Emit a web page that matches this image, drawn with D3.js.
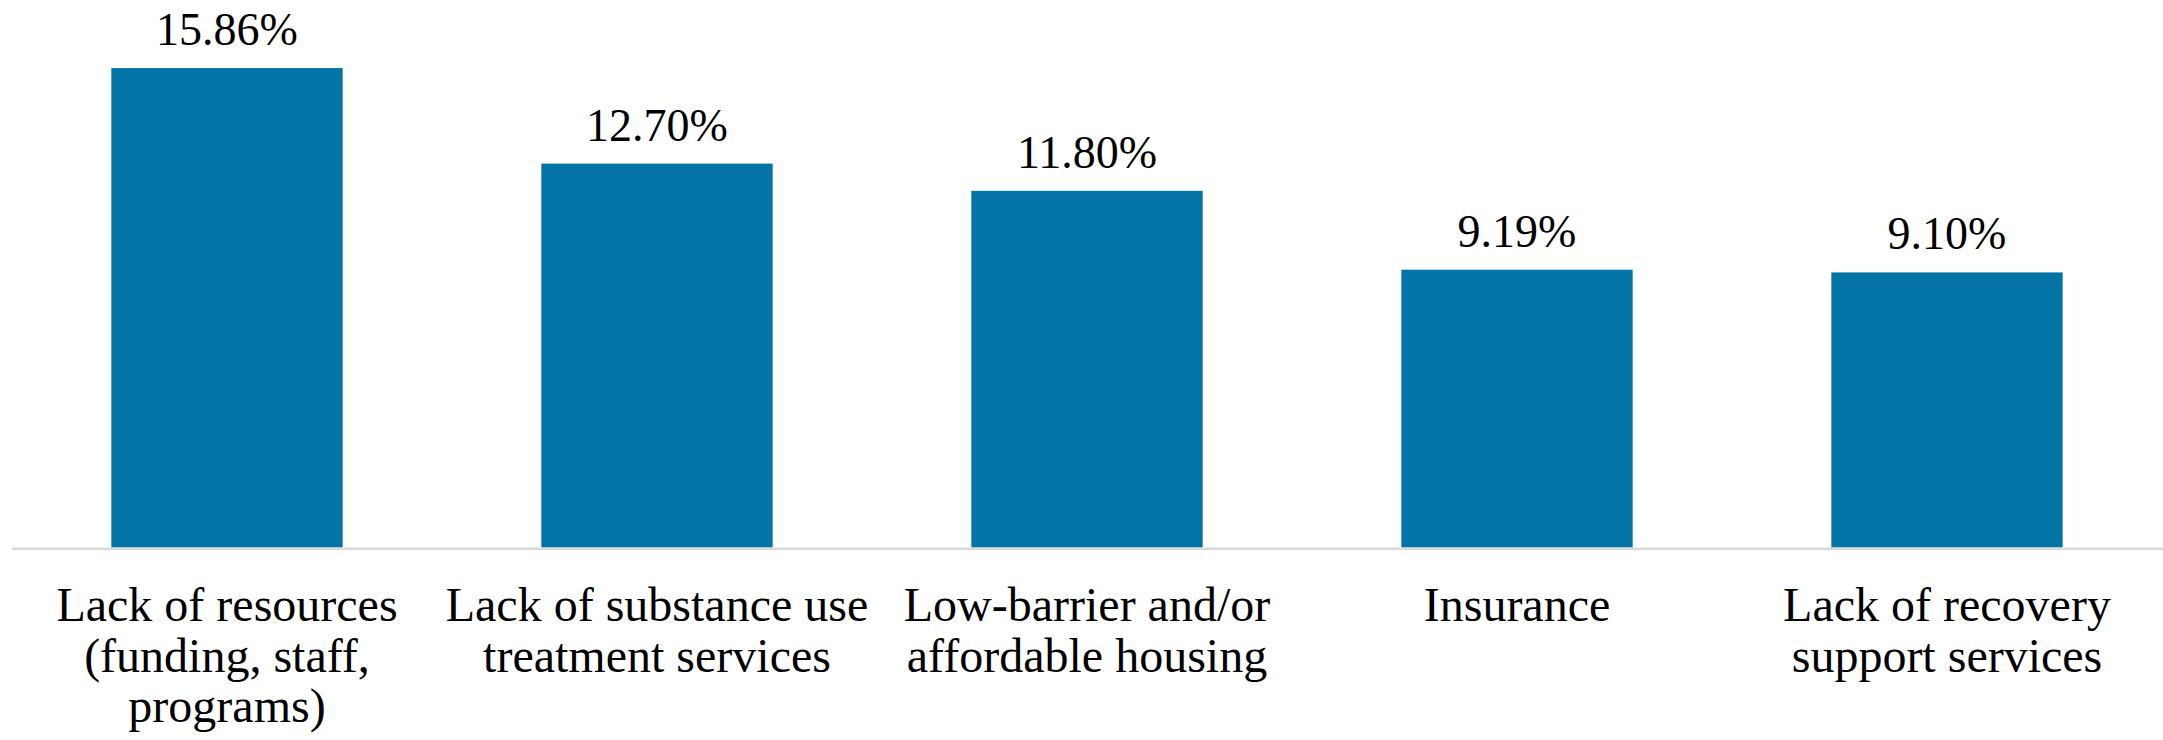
<!DOCTYPE html>
<html>
<head>
<meta charset="utf-8">
<script src="https://cdn.jsdelivr.net/npm/d3@7"></script>
<style>
  html, body { margin: 0; padding: 0; background: #ffffff; }
  svg { display: block; }
  svg text, svg tspan { font-family: "Liberation Serif", "Times New Roman", serif !important; }
</style>
</head>
<body>
<div id="chart"></div>
<script>
// Barrier categories (each entry is the wrapped lines of the axis label)
const categories = [
  ["Lack of resources", "(funding, staff,", "programs)"],
  ["Lack of substance use", "treatment services"],
  ["Low-barrier and/or", "affordable housing"],
  ["Insurance"],
  ["Lack of recovery", "support services"]
];
// Share of responses, in percent
const values = [15.86, 12.70, 11.80, 9.19, 9.10];
const valueLabels = ["15.86%", "12.70%", "11.80%", "9.19%", "9.10%"];

const width = 2163, height = 740;
const svg = d3.select("#chart").append("svg")
  .attr("width", width).attr("height", height);

const keys = categories.map((d, i) => i);
const x = d3.scaleBand()
  .domain(keys)
  .range([12, 2162])
  .paddingInner(0.462)
  .paddingOuter(0.231);

const y = d3.scaleLinear()
  .domain([0, 18])
  .range([547.5, 3.4]);

// bars
svg.selectAll("rect.bar")
  .data(values)
  .join("rect")
  .attr("class", "bar")
  .attr("x", (d, i) => x(i))
  .attr("width", x.bandwidth())
  .attr("y", d => y(d))
  .attr("height", d => y(0) - y(d))
  .attr("fill", "#0474a6");

// category axis line
svg.append("line")
  .attr("x1", 12).attr("x2", 2163)
  .attr("y1", y(0) + 1.2).attr("y2", y(0) + 1.2)
  .attr("stroke", "#d9d9d9")
  .attr("stroke-width", 2.5);

// value labels
svg.selectAll("text.value")
  .data(values)
  .join("text")
  .attr("class", "value")
  .style("font-family", () => '"Liberation Serif"')
  .attr("x", (d, i) => x(i) + x.bandwidth() / 2)
  .attr("y", d => y(d) - 23)
  .attr("text-anchor", "middle")
  .attr("font-size", 46)
  .text((d, i) => valueLabels[i]);

// category labels, one text element per line
const lines = [];
categories.forEach((c, i) => c.forEach((t, j) => lines.push({ t, i, j })));
svg.selectAll("text.cat")
  .data(lines)
  .join("text")
  .attr("class", "cat")
  .style("font-family", () => '"Liberation Serif"')
  .attr("text-anchor", "middle")
  .attr("x", d => x(d.i) + x.bandwidth() / 2)
  .attr("y", d => 621 + d.j * 50.5)
  .attr("font-size", 48)
  .text(d => d.t);
</script>
</body>
</html>
